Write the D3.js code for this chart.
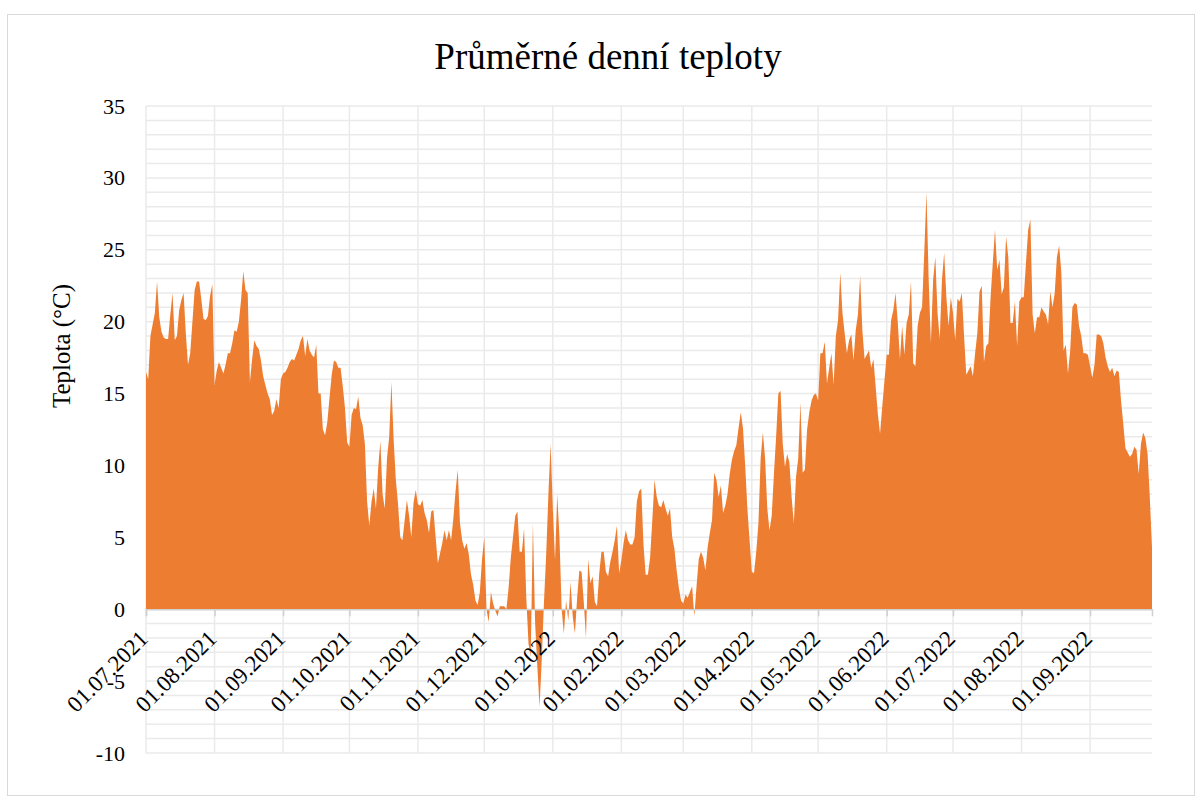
<!DOCTYPE html>
<html>
<head>
<meta charset="utf-8">
<script src="https://cdn.jsdelivr.net/npm/d3@7"></script>
<style>
  body { margin: 0; background: #fff; }
  text { font-family: "Liberation Serif", "Times New Roman", serif; fill: #000; }
</style>
</head>
<body>
<div id="graph"></div>
<script>
// Denní průměry, jedno pole na měsíc (od 01.07.2021)
const jul2021 = [16.5, 16.0, 19.0, 19.8, 20.6, 22.8, 20.3, 19.3, 18.9, 18.8, 18.8, 20.5, 22.0, 18.7, 19.0, 20.8, 21.5, 22.0, 19.2, 17.0, 17.8, 20.0, 22.2, 22.8, 22.8, 21.6, 20.2, 20.1, 20.4, 21.8, 22.6]
const aug2021 = [15.6, 16.6, 17.2, 16.8, 16.4, 17.0, 17.8, 17.8, 18.5, 19.4, 19.3, 20.0, 21.5, 23.5, 22.2, 22.0, 15.8, 17.4, 18.7, 18.3, 18.1, 17.3, 16.2, 15.6, 15.0, 14.6, 13.5, 13.8, 14.6, 14.0, 16.0]
const sep2021 = [16.4, 16.5, 16.8, 17.2, 17.4, 17.3, 17.7, 18.1, 18.7, 19.0, 17.6, 18.8, 18.0, 17.7, 17.5, 18.4, 15.0, 15.0, 12.5, 12.1, 13.0, 14.7, 16.3, 17.3, 17.2, 16.8, 16.8, 15.5, 14.0, 11.6]
const oct2021 = [11.3, 13.5, 14.0, 13.9, 14.8, 13.3, 12.8, 11.5, 7.5, 5.8, 7.5, 8.4, 7.0, 9.8, 11.7, 8.0, 7.0, 10.5, 12.0, 15.8, 11.8, 9.0, 7.3, 5.0, 4.8, 6.2, 7.6, 6.5, 5.0, 7.4, 8.3]
const nov2021 = [7.3, 7.2, 7.6, 6.7, 6.2, 5.3, 6.8, 6.9, 5.0, 3.2, 3.9, 4.6, 5.5, 4.8, 5.5, 4.8, 6.3, 8.2, 9.7, 6.0, 4.8, 4.2, 4.6, 3.8, 2.4, 1.7, 0.6, 0.3, 1.2, 3.5]
const dec2021 = [5.0, 0.0, -0.9, 1.2, 0.4, -0.1, -0.5, 0.2, 0.2, 0.2, 0.0, 1.5, 3.6, 5.0, 6.5, 6.8, 4.0, 4.0, 5.6, 0.8, -2.4, -3.3, 6.0, -1.0, -4.0, -6.8, -3.5, 0.5, 3.8, 8.0, 11.5]
const jan2022 = [7.0, 3.4, 8.0, 5.0, 0.0, -1.7, 0.6, -0.8, 1.9, -0.5, -1.7, 0.8, 2.7, 2.6, 0.5, -2.0, 3.5, 1.8, 2.3, 0.5, 0.2, 2.5, 4.0, 4.0, 2.6, 2.3, 3.3, 4.0, 4.8, 5.8, 2.5]
const feb2022 = [3.4, 4.6, 5.5, 4.8, 4.5, 4.5, 5.0, 7.5, 8.2, 8.4, 4.5, 2.4, 2.4, 3.6, 6.2, 9.0, 7.8, 7.2, 7.1, 7.6, 7.0, 6.5, 7.0, 5.0, 4.2, 2.7, 1.5, 0.6]
const mar2022 = [0.4, 1.0, 0.8, 1.2, 1.6, -0.5, 1.6, 3.5, 4.0, 3.6, 2.7, 4.3, 5.3, 6.2, 9.5, 9.0, 7.8, 8.6, 6.7, 7.2, 8.0, 9.4, 10.4, 11.0, 11.4, 12.6, 13.7, 12.6, 10.0, 7.0, 4.8]
const apr2022 = [2.6, 2.5, 4.0, 6.0, 10.5, 12.3, 10.5, 7.0, 5.5, 6.5, 9.4, 12.0, 15.0, 15.2, 11.5, 9.9, 10.8, 10.2, 7.8, 6.0, 9.2, 10.5, 14.4, 9.5, 9.7, 12.5, 13.7, 14.5, 14.9, 15.0]
const may2022 = [14.5, 17.8, 17.8, 18.6, 15.7, 16.8, 17.8, 15.6, 19.0, 20.1, 23.4, 20.6, 19.2, 17.8, 18.7, 19.1, 17.3, 19.4, 20.5, 23.2, 19.4, 17.4, 17.7, 18.0, 16.8, 17.4, 15.5, 13.6, 12.2, 14.1, 15.9]
const jun2022 = [17.7, 17.7, 20.1, 20.8, 22.0, 20.0, 17.4, 19.7, 17.7, 19.9, 20.5, 22.8, 17.1, 16.9, 19.7, 20.6, 21.0, 24.8, 29.0, 22.9, 18.5, 22.9, 24.5, 20.6, 18.8, 22.9, 24.8, 21.7, 19.7, 21.7]
const jul2022 = [20.6, 18.7, 21.6, 21.4, 22.0, 19.0, 16.3, 16.6, 16.9, 16.2, 17.8, 19.2, 22.1, 22.5, 17.2, 18.3, 18.5, 21.7, 24.1, 26.4, 23.6, 24.3, 21.9, 22.4, 25.9, 24.5, 19.9, 19.9, 21.4, 18.3, 21.4]
const aug2022 = [21.7, 21.7, 24.1, 26.4, 27.1, 20.5, 19.2, 20.3, 20.3, 21.0, 20.7, 20.5, 19.8, 22.1, 21.0, 22.0, 24.5, 25.3, 23.4, 18.0, 18.4, 16.4, 18.0, 21.0, 21.3, 21.2, 19.7, 19.0, 17.8, 17.8, 17.7]
const sep2022 = [16.9, 16.1, 17.0, 19.1, 19.1, 19.0, 18.5, 17.5, 16.9, 16.5, 16.8, 16.2, 16.6, 16.5, 14.5, 12.9, 11.2, 10.9, 10.6, 10.8, 11.3, 11.1, 9.4, 11.5, 12.3, 11.9, 10.8, 7.8, 4.3]

const months = [jul2021, aug2021, sep2021, oct2021, nov2021, dec2021, jan2022, feb2022, mar2022, apr2022, may2022, jun2022, jul2022, aug2022, sep2022]

const tickLabels = ["01.07.2021", "01.08.2021", "01.09.2021", "01.10.2021", "01.11.2021", "01.12.2021",
  "01.01.2022", "01.02.2022", "01.03.2022", "01.04.2022", "01.05.2022", "01.06.2022",
  "01.07.2022", "01.08.2022", "01.09.2022"]

const yTicks = [-10, -5, 0, 5, 10, 15, 20, 25, 30, 35]

const title = "Průměrné denní teploty"
const yTitle = "Teplota (°C)"

const dimensions = { width: 1202, height: 803 }
const margin = { left: 146, right: 50, top: 106, bottom: 50 }

const parseDay = d3.timeParse("%d.%m.%Y")
const start = parseDay(tickLabels[0])

// Poskládáme řadu dnů
const data = months.flat().map((value, i) => ({ date: d3.timeDay.offset(start, i), value }))

const svg = d3.select("#graph")
  .append("svg")
    .attr("width", dimensions.width)
    .attr("height", dimensions.height)

// Rámeček grafu
svg.append("rect")
  .attr("x", 7.5)
  .attr("y", 14.5)
  .attr("width", 1187)
  .attr("height", 781)
  .attr("fill", "#fff")
  .attr("stroke", "#d9d9d9")

const xScale = d3.scaleTime()
  .domain(d3.extent(data, d => d.date))
  .range([margin.left, dimensions.width - margin.right])

const yScale = d3.scaleLinear()
  .domain([-10, 35])
  .range([753, margin.top])

const tickDates = tickLabels.map(parseDay)

// Mřížka: vodorovně po 1 °C, svisle po měsících
const grid = svg.append("g")
grid.selectAll(".h")
  .data(d3.range(-10, 36))
  .join("line")
    .attr("x1", xScale.range()[0])
    .attr("x2", xScale.range()[1])
    .attr("y1", d => yScale(d))
    .attr("y2", d => yScale(d))
    .attr("stroke", "#eaeaea")
    .attr("stroke-width", 1.5)

grid.selectAll(".v")
  .data(tickDates)
  .join("line")
    .attr("x1", d => xScale(d))
    .attr("x2", d => xScale(d))
    .attr("y1", yScale(35))
    .attr("y2", yScale(-10))
    .attr("stroke", "#eaeaea")
    .attr("stroke-width", 1.5)

// Plocha
const area = d3.area()
  .x(d => xScale(d.date))
  .y0(yScale(0))
  .y1(d => yScale(d.value))

svg.append("path")
  .datum(data)
  .attr("fill", "#ed7d31")
  .attr("d", area)

// Osa x na nule
const xAxis = svg.append("g")
  .attr("transform", `translate(0,${yScale(0)})`)
  .call(d3.axisBottom(xScale).tickValues(tickDates).tickSize(7).tickFormat((d, i) => tickLabels[i]))

xAxis.select(".domain").attr("stroke", "#d0d0d0").attr("stroke-width", 1.5)
xAxis.selectAll(".tick line").attr("stroke", "#d0d0d0").attr("stroke-width", 1.5)
xAxis.selectAll(".tick text")
  .attr("font-size", 23)
  .attr("font-family", "Liberation Serif")
  .attr("text-anchor", "end")
  .attr("transform", "translate(3,31) rotate(-45)")
  .attr("x", 0)
  .attr("y", 0)
  .attr("dy", null)

// Osa y
const yAxis = svg.append("g")
  .attr("transform", `translate(${margin.left},0)`)
  .call(d3.axisLeft(yScale).tickValues(yTicks).tickSize(0).tickPadding(21).tickFormat(d => String(d)))

yAxis.select(".domain").remove()
yAxis.selectAll(".tick text")
  .attr("font-size", 22)
  .attr("font-family", "Liberation Serif")

// Titulky
svg.append("text")
  .attr("x", 608)
  .attr("y", 69)
  .attr("text-anchor", "middle")
  .attr("font-size", 37)
  .text(title)

svg.append("text")
  .attr("transform", "translate(70,346) rotate(-90)")
  .attr("text-anchor", "middle")
  .attr("font-size", 25)
  .text(yTitle)
</script>
</body>
</html>
